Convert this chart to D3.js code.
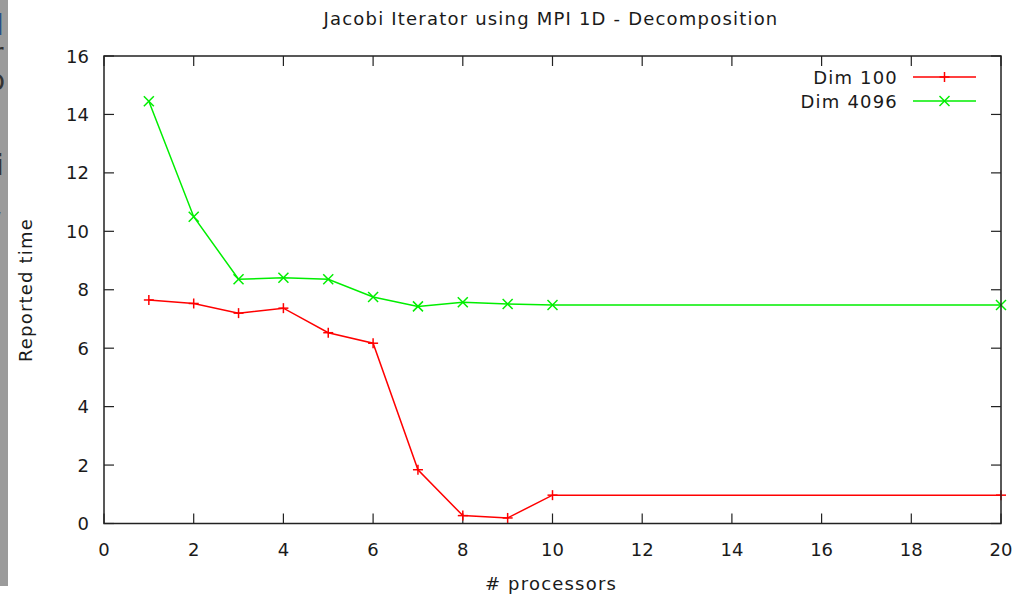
<!DOCTYPE html>
<html>
<head>
<meta charset="utf-8">
<script src="https://cdn.jsdelivr.net/npm/d3@7/dist/d3.min.js"></script>
<style>
  html, body { margin: 0; padding: 0; background: #fff; }
  svg { display: block; }
  text { font-family: "DejaVu Sans", sans-serif; fill: #1a1a1a; }
</style>
</head>
<body>
<div id="chart"></div>
<script>
// values
const PROCESSORS = [1, 2, 3, 4, 5, 6, 7, 8, 9, 10, 20]
const DIM_100 = [7.65, 7.53, 7.2, 7.37, 6.53, 6.17, 1.84, 0.27, 0.19, 0.97, 0.97]
const DIM_4096 = [14.45, 10.5, 8.36, 8.41, 8.36, 7.75, 7.43, 7.57, 7.51, 7.48, 7.48]
const X_TICKS = [0, 2, 4, 6, 8, 10, 12, 14, 16, 18, 20]
const Y_TICKS = [0, 2, 4, 6, 8, 10, 12, 14, 16]

const SERIES = [
  { name: 'Dim 100', values: DIM_100, color: '#ff0000', marker: 'plus' },
  { name: 'Dim 4096', values: DIM_4096, color: '#00ee00', marker: 'cross' },
]

const width = 1029
const height = 596

const svg = d3.select('#chart').append('svg')
  .attr('width', width)
  .attr('height', height)

// grey strip of the window behind the screenshot
svg.append('rect')
  .attr('x', 0).attr('y', 0)
  .attr('width', 8).attr('height', 586)
  .attr('fill', '#9b9b9b')
const clip = svg.append('clipPath').attr('id', 'strip')
clip.append('rect').attr('x', 0).attr('y', 0).attr('width', 7).attr('height', 590)
const strip = svg.append('g').attr('clip-path', 'url(#strip)')
  .attr('font-size', '28px')
;[['l', -4, 35, '#2a4f86'], ['r', -8, 63, '#333'], ['o', -12, 90, '#333'], ['i', -4, 175, '#333'], ['/', -9, 233, '#333']]
  .forEach(([ch, x, y, c]) => {
    strip.append('text').attr('x', x).attr('y', y).style('fill', c).text(ch)
  })

const x = d3.scaleLinear().domain([0, 20]).range([104, 1001])
const y = d3.scaleLinear().domain([0, 16]).range([523.5, 56])

const axisColor = '#222'
const fontSize = '18px'
const spacing = '1.2px'

// mirrored tick marks, gnuplot style (inward)
const tickLen = 10
const ticksG = svg.append('g').attr('stroke', axisColor).attr('stroke-width', 1.2)
X_TICKS.forEach(t => {
  ticksG.append('line').attr('x1', x(t)).attr('x2', x(t)).attr('y1', y(0)).attr('y2', y(0) - tickLen)
  ticksG.append('line').attr('x1', x(t)).attr('x2', x(t)).attr('y1', y(16)).attr('y2', y(16) + tickLen)
})
Y_TICKS.forEach(t => {
  ticksG.append('line').attr('x1', x(0)).attr('x2', x(0) + tickLen).attr('y1', y(t)).attr('y2', y(t))
  ticksG.append('line').attr('x1', x(20)).attr('x2', x(20) - tickLen).attr('y1', y(t)).attr('y2', y(t))
})

// tick labels
svg.append('g').selectAll('text')
  .data(X_TICKS).join('text')
  .attr('x', d => x(d)).attr('y', 556)
  .attr('text-anchor', 'middle').attr('font-size', fontSize)
  .text(d => d)
svg.append('g').selectAll('text')
  .data(Y_TICKS).join('text')
  .attr('x', 89).attr('y', d => y(d) + 6.5)
  .attr('text-anchor', 'end').attr('font-size', fontSize)
  .text(d => d)

// lines
const line = d3.line().x(d => x(d[0])).y(d => y(d[1]))
SERIES.forEach(s => {
  const pts = PROCESSORS.map((p, i) => [p, s.values[i]])
  svg.append('path')
    .attr('d', line(pts))
    .attr('fill', 'none').attr('stroke', s.color).attr('stroke-width', 1.5)
  const mk = svg.append('g').attr('stroke', s.color).attr('stroke-width', 1.5)
  pts.forEach(p => drawMarker(mk, x(p[0]), y(p[1]), s.marker))
})

function drawMarker(g, cx, cy, type) {
  const r = 5
  if (type === 'plus') {
    g.append('line').attr('x1', cx - r).attr('x2', cx + r).attr('y1', cy).attr('y2', cy)
    g.append('line').attr('x1', cx).attr('x2', cx).attr('y1', cy - r).attr('y2', cy + r)
  } else {
    g.append('line').attr('x1', cx - r).attr('x2', cx + r).attr('y1', cy - r).attr('y2', cy + r)
    g.append('line').attr('x1', cx - r).attr('x2', cx + r).attr('y1', cy + r).attr('y2', cy - r)
  }
}

// border
svg.append('rect')
  .attr('x', x(0)).attr('y', y(16))
  .attr('width', x(20) - x(0)).attr('height', y(0) - y(16))
  .attr('fill', 'none').attr('stroke', axisColor).attr('stroke-width', 1.5)

// legend
const legend = svg.append('g')
SERIES.forEach((s, i) => {
  const ly = 77 + i * 24
  legend.append('text')
    .attr('x', 898).attr('y', ly + 6.5)
    .attr('text-anchor', 'end').attr('font-size', fontSize)
    .attr('letter-spacing', spacing)
    .text(s.name)
  legend.append('line')
    .attr('x1', 913).attr('x2', 976).attr('y1', ly).attr('y2', ly)
    .attr('stroke', s.color).attr('stroke-width', 1.5)
  drawMarker(legend.append('g').attr('stroke', s.color).attr('stroke-width', 1.5), 944.5, ly, s.marker)
})

// title and axis labels
svg.append('text')
  .attr('x', 551).attr('y', 25)
  .attr('text-anchor', 'middle').attr('font-size', fontSize)
  .attr('letter-spacing', spacing)
  .text('Jacobi Iterator using MPI 1D - Decomposition')
svg.append('text')
  .attr('x', 551).attr('y', 590)
  .attr('text-anchor', 'middle').attr('font-size', fontSize)
  .attr('letter-spacing', spacing)
  .text('# processors')
svg.append('text')
  .attr('transform', 'translate(32,290) rotate(-90)')
  .attr('text-anchor', 'middle').attr('font-size', fontSize)
  .attr('letter-spacing', spacing)
  .text('Reported time')
</script>
</body>
</html>
